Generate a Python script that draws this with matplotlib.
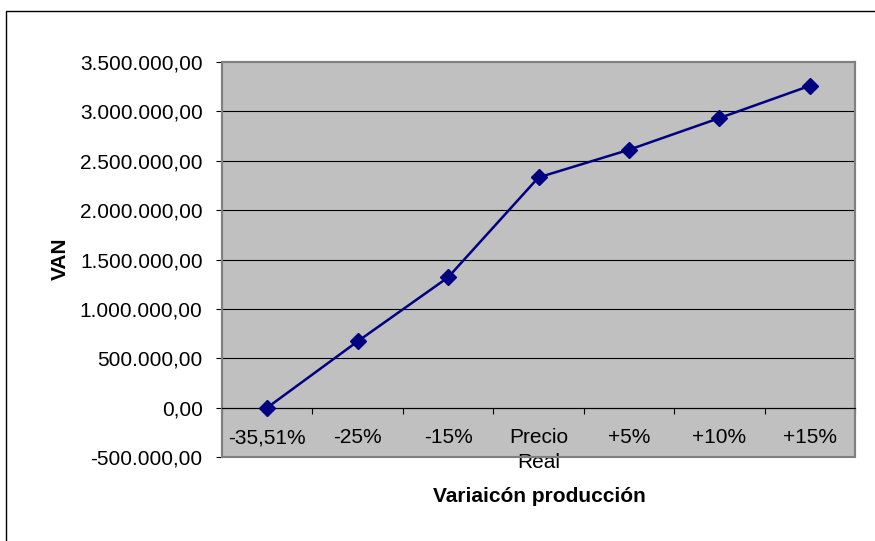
import numpy as np
import matplotlib
matplotlib.use("Agg")
import matplotlib.pyplot as plt
from matplotlib.patches import Rectangle
from matplotlib.ticker import FuncFormatter, FixedLocator

# data
categorias = ["-35,51%", "-25%", "-15%", "Precio\nReal", "+5%", "+10%", "+15%"]
van = [0, 671000, 1319000, 2331000, 2611000, 2932000, 3259000]
y_ticks = [-500000, 0, 500000, 1000000, 1500000, 2000000, 2500000, 3000000, 3500000]

plt.rcParams['font.family'] = ['Liberation Sans', 'DejaVu Sans']


def fmt_es(v, pos=None):
    """Number with dot as thousands separator and comma for decimals."""
    s = f"{v:,.2f}"
    return s.replace(",", "X").replace(".", ",").replace("X", ".")


fig = plt.figure(figsize=(8.75, 5.41), dpi=100)

# outer chart frame (only left and top edges visible)
fig.patches.append(Rectangle((6 / 875, -0.2), 1.2, 1.2 - 11 / 541,
                             transform=fig.transFigure, fill=False,
                             edgecolor="black", lw=1.0, clip_on=False))

ax = fig.add_axes([222 / 875, 1 - 457 / 541, (855 - 222) / 875, (457 - 62) / 541])
ax.set_facecolor("#C0C0C0")

x = np.arange(len(categorias))
ax.set_xlim(-0.5, len(categorias) - 0.5)
ax.set_ylim(y_ticks[0], y_ticks[-1])

# horizontal gridlines
for yv in y_ticks[1:-1]:
    ax.axhline(yv, color="black", lw=0.8, zorder=1)

ax.plot(x, van, color="#000080", lw=1.8, marker="D", markersize=8.5,
        markerfacecolor="#000080", markeredgecolor="#000080", zorder=3)

# plot-area border
for s in ["left", "right", "top"]:
    ax.spines[s].set_color("#808080")
    ax.spines[s].set_linewidth(1.5)
ax.spines["bottom"].set_position(("data", 0))
ax.spines["bottom"].set_color("black")
ax.spines["bottom"].set_linewidth(0.8)
ax.add_patch(Rectangle((0, 0), 1, 1, transform=ax.transAxes, fill=False,
                       edgecolor="#808080", lw=1.5, zorder=2, clip_on=False))

# y axis
ax.yaxis.set_major_locator(FixedLocator(y_ticks))
ax.yaxis.set_major_formatter(FuncFormatter(fmt_es))
ax.tick_params(axis="y", direction="out", length=4, width=0.8, color="black",
               pad=10, labelsize=15)

# x axis: labels at category centers, ticks at boundaries
ax.set_xticks(x)
ax.set_xticklabels(categorias, fontsize=15, linespacing=1.4, va="top")
ax.set_xticks(np.arange(-0.5, len(categorias)), minor=True)
ax.tick_params(axis="x", which="major", length=0, pad=15)
ax.tick_params(axis="x", which="minor", direction="out", length=4.5,
               width=0.8, color="black")

fig.text(539 / 875, 1 - 497 / 541, "Variaicón producción", fontsize=15,
         fontweight="bold", ha="center", va="center")
fig.text(60 / 875, 1 - 259 / 541, "VAN", fontsize=15, fontweight="bold",
         rotation=90, ha="center", va="center")

fig.savefig("out.png", dpi=100)
